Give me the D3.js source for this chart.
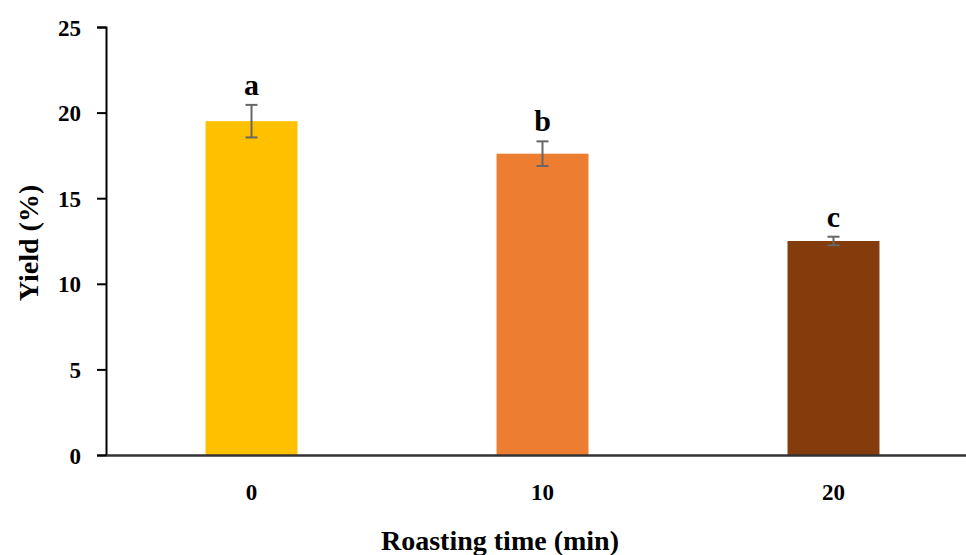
<!DOCTYPE html>
<html>
<head>
<meta charset="utf-8">
<script src="https://cdn.jsdelivr.net/npm/d3@7"></script>
<style>
  body { margin: 0; background: #fff; }
  text { font-family: "Palatino Linotype", "Book Antiqua", Palatino, "Liberation Serif", "DejaVu Serif", serif; font-weight: bold; fill: #000; }
</style>
</head>
<body>
<svg id="chart" width="966" height="555"></svg>
<script>
const categories = ['0', '10', '20'];
const yieldValues = [19.5, 17.6, 12.5];
const yieldErrors = [0.95, 0.72, 0.25];
const groupLabels = ['a', 'b', 'c'];
const barColors = ['#FFC000', '#ED7D31', '#843C0C'];
const yTicks = [0, 5, 10, 15, 20, 25];

const svg = d3.select('#chart');
const margin = { left: 106, top: 27, right: -13, bottom: 100 };
const width = 966 - margin.left - margin.right;
const height = 555 - margin.top - margin.bottom;

const g = svg.append('g').attr('transform', `translate(${margin.left},${margin.top})`);

const x = d3.scaleBand().domain(categories).range([0, width]).paddingInner(0.684).paddingOuter(0.342);
const y = d3.scaleLinear().domain([0, 25]).range([height, 0]);

// bars
g.selectAll('rect.bar')
  .data(yieldValues)
  .enter().append('rect')
  .attr('class', 'bar')
  .attr('x', (d, i) => x(categories[i]))
  .attr('width', x.bandwidth())
  .attr('y', d => y(d))
  .attr('height', d => height - y(d))
  .attr('fill', (d, i) => barColors[i]);

// error bars
const errG = g.append('g').attr('stroke', '#666').attr('stroke-width', 2);
yieldValues.forEach(function (v, i) {
  const cx = x(categories[i]) + x.bandwidth() / 2;
  const top = y(v + yieldErrors[i]);
  const bot = y(v - yieldErrors[i]);
  errG.append('line').attr('x1', cx).attr('x2', cx).attr('y1', top).attr('y2', bot);
  errG.append('line').attr('x1', cx - 6).attr('x2', cx + 6).attr('y1', top).attr('y2', top);
  errG.append('line').attr('x1', cx - 6).attr('x2', cx + 6).attr('y1', bot).attr('y2', bot);
});

// significance letters
g.selectAll('text.sig')
  .data(groupLabels)
  .enter().append('text')
  .attr('class', 'sig')
  .attr('x', (d, i) => x(categories[i]) + x.bandwidth() / 2)
  .attr('y', (d, i) => y(yieldValues[i] + yieldErrors[i]) - 10)
  .attr('text-anchor', 'middle')
  .style('font-size', '30px')
  .text(d => d);

// y axis
const yAxis = g.append('g')
  .call(d3.axisLeft(y).tickValues(yTicks).tickSize(9).tickPadding(16));
yAxis.select('.domain').attr('stroke', '#000').attr('stroke-width', 2);
yAxis.selectAll('.tick line').attr('stroke', '#000').attr('stroke-width', 2);
yAxis.selectAll('.tick text').style('font-size', '23px').attr('dy', '0.35em');

// x axis
const xAxis = g.append('g')
  .attr('transform', `translate(0,${height})`)
  .call(d3.axisBottom(x).tickSize(0).tickPadding(29));
xAxis.select('.domain').attr('stroke', '#333').attr('stroke-width', 2.5);
xAxis.selectAll('.tick text').style('font-size', '23px');

// axis titles
svg.append('text')
  .attr('x', 500).attr('y', 550)
  .attr('text-anchor', 'middle')
  .style('font-size', '28px')
  .text('Roasting time (min)');

svg.append('text')
  .attr('transform', 'translate(38,243) rotate(-90)')
  .attr('text-anchor', 'middle')
  .style('font-size', '28px')
  .text('Yield (%)');
</script>
</body>
</html>
